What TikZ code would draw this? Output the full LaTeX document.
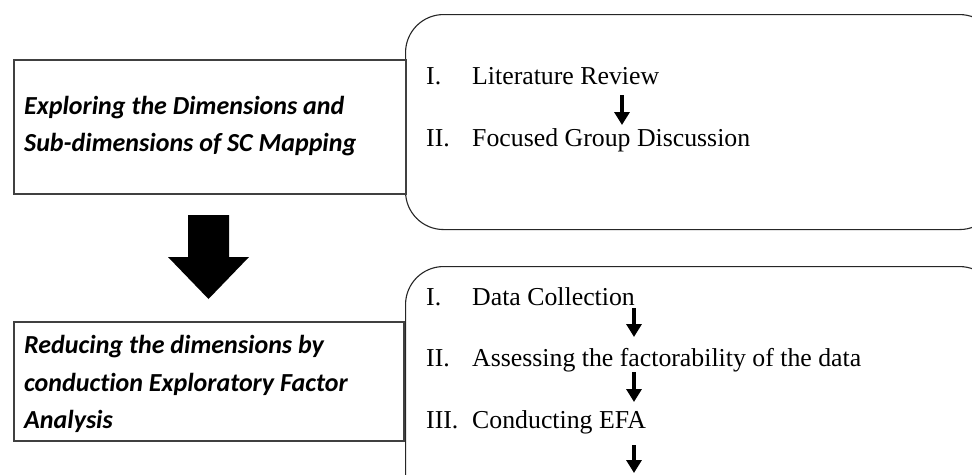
\documentclass[tikz,border=0pt]{standalone}
\usepackage{fontspec}
\setmainfont{Liberation Serif}
\newfontfamily\calfont[Ligatures=NoCommon]{Carlito}
\usetikzlibrary{arrows.meta}
\begin{document}
\begin{tikzpicture}[x=1pt,y=-1pt,
  leftbox/.style={draw=black!75, line width=2.4pt, inner sep=0pt, anchor=north west},
  roundbox/.style={draw=black!85, line width=1.1pt, rounded corners=38pt, inner sep=0pt, anchor=north west},
  lefttext/.style={anchor=west, align=left, inner sep=0pt, font=\calfont\bfseries\itshape\fontsize{26}{37.5}\selectfont},
  numtext/.style={anchor=base west, inner sep=0pt, font=\fontsize{25.8}{30}\selectfont},
  itemtext/.style={anchor=base west, inner sep=0pt, font=\fontsize{25.8}{30}\selectfont},
  smallarrow/.style={line width=3.8pt, -{Triangle[width=15pt,length=13pt]}},
]
\useasboundingbox (0,0) rectangle (972,474);
\clip (0,0) rectangle (972,474);
\fill[white] (0,0) rectangle (972,474);

% rounded boxes (extend past the right edge)
\node[roundbox, minimum width=592pt, minimum height=215pt] (r1) at (405,14) {};
\node[roundbox, minimum width=592pt, minimum height=250pt] (r2) at (405,266) {};

% left boxes
\node[leftbox, minimum width=392pt, minimum height=134pt] (b1) at (13,59) {};
\node[leftbox, minimum width=390pt, minimum height=119pt] (b2) at (13,321) {};

\node[lefttext] (l1) at (24,126) {Exploring the Dimensions and\\Sub-dimensions of SC Mapping};
\node[lefttext] (l2) at (24,384) {Reducing the dimensions by\\conduction Exploratory Factor\\Analysis};

% big arrow
\coordinate (big) at (208.5,215);
\fill[black] (big) ++(-20.5,0) -- ++(41,0) -- ++(0,42) -- ++(20,0) -- (208.5,299) -- (168,257) -- (188,257) -- cycle;

% items top
\node[numtext] (n1) at (426,84) {I.};
\node[itemtext] (t1) at (472,84) {Literature Review};
\node[numtext] (n2) at (426,146) {II.};
\node[itemtext] (t2) at (472,146) {Focused Group Discussion};

% items bottom
\node[numtext] (n3) at (426,305) {I.};
\node[itemtext] (t3) at (472,305) {Data Collection};
\node[numtext] (n4) at (426,366) {II.};
\node[itemtext] (t4) at (472,366) {Assessing the factorability of the data};
\node[numtext] (n5) at (426,428) {III.};
\node[itemtext] (t5) at (472,428) {Conducting EFA};

% small arrows
\coordinate (s1a) at (622,95);  \coordinate (s1b) at (622,125);
\coordinate (s2a) at (634,308); \coordinate (s2b) at (634,337);
\coordinate (s3a) at (634,372); \coordinate (s3b) at (634,402);
\coordinate (s4a) at (634,445); \coordinate (s4b) at (634,473);
\draw[smallarrow] (s1a) -- (s1b);
\draw[smallarrow] (s2a) -- (s2b);
\draw[smallarrow] (s3a) -- (s3b);
\draw[smallarrow] (s4a) -- (s4b);
\end{tikzpicture}
\end{document}
